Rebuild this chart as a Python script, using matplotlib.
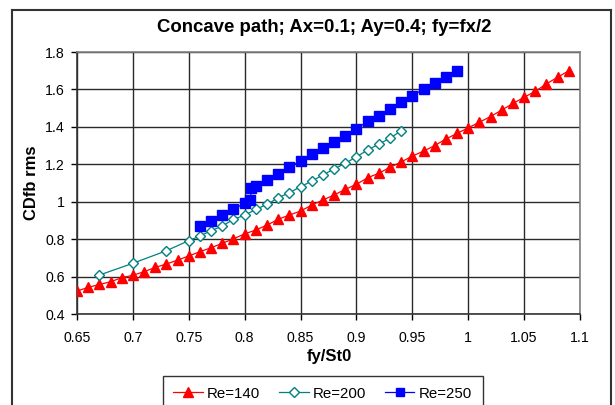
import matplotlib
matplotlib.use("Agg")
import matplotlib.pyplot as plt
from matplotlib.lines import Line2D

plt.rcParams['font.family'] = ['Liberation Sans', 'DejaVu Sans']

# Re = 140
x140 = [0.65, 0.66, 0.67, 0.68, 0.69, 0.70, 0.71, 0.72, 0.73, 0.74, 0.75,
        0.76, 0.77, 0.78, 0.79, 0.80, 0.81, 0.82, 0.83, 0.84, 0.85, 0.86,
        0.87, 0.88, 0.89, 0.90, 0.91, 0.92, 0.93, 0.94, 0.95, 0.96, 0.97,
        0.98, 0.99, 1.00, 1.01, 1.02, 1.03, 1.04, 1.05, 1.06, 1.07, 1.08, 1.09]
y140 = [0.523, 0.542, 0.558, 0.572, 0.594, 0.607, 0.626, 0.649, 0.667, 0.688, 0.710,
        0.733, 0.754, 0.778, 0.802, 0.828, 0.849, 0.875, 0.906, 0.929, 0.950, 0.982,
        1.009, 1.036, 1.066, 1.093, 1.128, 1.152, 1.184, 1.212, 1.244, 1.270, 1.300,
        1.335, 1.365, 1.395, 1.425, 1.455, 1.490, 1.525, 1.558, 1.590, 1.630, 1.665, 1.700]

# Re = 200
x200 = [0.67, 0.70, 0.73, 0.75, 0.76, 0.77, 0.78, 0.79, 0.80, 0.81, 0.82, 0.83,
        0.84, 0.85, 0.86, 0.87, 0.88, 0.89, 0.90, 0.91, 0.92, 0.93, 0.94]
y200 = [0.608, 0.671, 0.738, 0.792, 0.817, 0.845, 0.870, 0.906, 0.928, 0.959, 0.986, 1.021,
        1.048, 1.080, 1.110, 1.143, 1.175, 1.205, 1.240, 1.276, 1.308, 1.339, 1.379]

# Re = 250
x250 = [0.76, 0.77, 0.78, 0.79, 0.800, 0.805, 0.806, 0.81, 0.82, 0.83, 0.84, 0.85,
        0.86, 0.87, 0.88, 0.89, 0.90, 0.91, 0.92, 0.93, 0.94, 0.95, 0.96, 0.97,
        0.98, 0.99]
y250 = [0.870, 0.898, 0.929, 0.961, 0.991, 1.007, 1.073, 1.082, 1.116, 1.148, 1.187, 1.217,
        1.253, 1.289, 1.321, 1.353, 1.388, 1.431, 1.460, 1.495, 1.534, 1.566, 1.602, 1.636,
        1.668, 1.700]

xticks = [0.65, 0.7, 0.75, 0.8, 0.85, 0.9, 0.95, 1.0, 1.05, 1.1]
xticklabels = ['0.65', '0.7', '0.75', '0.8', '0.85', '0.9', '0.95', '1', '1.05', '1.1']
yticks = [0.4, 0.6, 0.8, 1.0, 1.2, 1.4, 1.6, 1.8]
yticklabels = ['0.4', '0.6', '0.8', '1', '1.2', '1.4', '1.6', '1.8']

W, H = 615, 405
fig = plt.figure(figsize=(W / 100, H / 100), dpi=100)
ax = fig.add_axes([77 / W, 1 - 314 / H, (580 - 77) / W, (314 - 52) / H])

l140, = ax.plot(x140, y140, color='#FF0000', lw=0.9, marker='^', ms=7.4,
                mfc='#FF0000', mec='#FF0000', zorder=3)
l200, = ax.plot(x200, y200, color='#008080', lw=0.9, marker='D', ms=5.4,
                mfc='white', mec='#008080', mew=1.0, zorder=4)
l250, = ax.plot(x250, y250, color='#0000FF', lw=0.9, marker='s', ms=7.0,
                mfc='#0000FF', mec='#0000FF', zorder=5)

ax.set_xlim(0.65, 1.1)
ax.set_ylim(0.4, 1.8)
ax.set_xticks(xticks)
ax.set_xticklabels(xticklabels)
ax.set_yticks(yticks)
ax.set_yticklabels(yticklabels)
ax.tick_params(axis='both', direction='out', length=4, width=1, colors='black',
               labelsize=10.2, pad=5)
ax.tick_params(axis='x', pad=8)
ax.grid(True, color='#2a2a2a', lw=1.0)
ax.set_axisbelow(True)
for side in ('top', 'right'):
    ax.spines[side].set_color('#808080')
    ax.spines[side].set_linewidth(1.2)
for side in ('left', 'bottom'):
    ax.spines[side].set_color('#333333')
    ax.spines[side].set_linewidth(1.2)

fig.text(324 / W, 1 - 28 / H, 'Concave path; Ax=0.1; Ay=0.4; fy=fx/2',
         ha='center', va='center', fontsize=13.4, fontweight='bold')
fig.text(329 / W, 1 - 357 / H, 'fy/St0', ha='center', va='center',
         fontsize=12, fontweight='bold')
fig.text(31 / W, 1 - 183 / H, 'CDfb rms', ha='center', va='center',
         rotation=90, fontsize=12, fontweight='bold')

# outer chart border
bc = '#333333'
fig.add_artist(Line2D([12 / W, 12 / W], [0, 1 - 10 / H], color=bc, lw=1.5,
                      transform=fig.transFigure))
fig.add_artist(Line2D([12 / W, 611 / W], [1 - 10 / H, 1 - 10 / H], color=bc, lw=1.5,
                      transform=fig.transFigure))
fig.add_artist(Line2D([611 / W, 611 / W], [0, 1 - 10 / H], color=bc, lw=1.5,
                      transform=fig.transFigure))

leg = fig.legend([l140, l200, l250], ['Re=140', 'Re=200', 'Re=250'],
                 loc='upper left', bbox_to_anchor=(163 / W, 1 - 376 / H),
                 borderaxespad=0, ncol=3, fontsize=10.8, frameon=True,
                 fancybox=False, edgecolor='black', borderpad=0.7,
                 handlelength=1.95, columnspacing=1.25, handletextpad=0.3,
                 markerscale=0.9)
leg.get_frame().set_linewidth(1.0)

fig.savefig('out.png', dpi=100)
